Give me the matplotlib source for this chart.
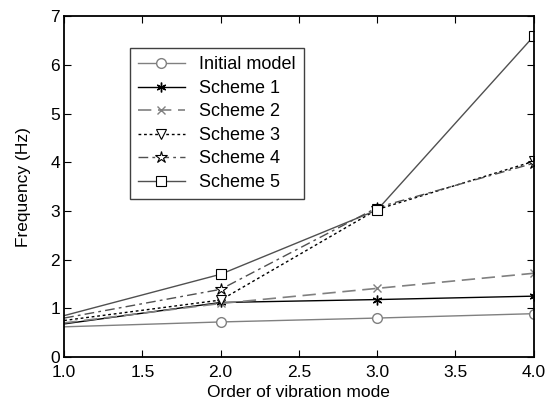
import matplotlib.pyplot as plt

plt.rcParams['font.family'] = ['Liberation Sans', 'DejaVu Sans']

# order of vibration mode
modes = [1.0, 2.0, 3.0, 4.0]

# frequencies (Hz) for each model
initial_model = [0.62, 0.72, 0.80, 0.89]
scheme_1 = [0.68, 1.12, 1.18, 1.25]
scheme_2 = [0.70, 1.10, 1.41, 1.72]
scheme_3 = [0.75, 1.17, 3.03, 4.02]
scheme_4 = [0.80, 1.39, 3.07, 3.98]
scheme_5 = [0.85, 1.70, 3.02, 6.59]

fig = plt.figure(figsize=(5.48, 4.05), dpi=100)
ax = fig.add_axes([0.117, 0.1185, 0.857, 0.8415])

gray = '#808080'
# no marker is drawn on the first mode in the original
mk = [1, 2, 3]
ax.plot(modes, initial_model, color=gray, lw=1, marker='o', ms=7, markevery=mk,
        mfc='white', mec=gray, label='Initial model')
ax.plot(modes, scheme_1, color='black', lw=1, marker=(6, 2, 0), ms=7, markevery=mk,
        mec='black', label='Scheme 1')
ax.plot(modes, scheme_2, color=gray, lw=1.2, ls=(0, (8, 4)), marker='x', ms=6, markevery=mk,
        mec=gray, label='Scheme 2')
ax.plot(modes, scheme_3, color='black', lw=1, ls=(0, (2, 2)), marker='v', ms=7, markevery=mk,
        mfc='white', mec='black', mew=0.8, label='Scheme 3')
ax.plot(modes, scheme_4, color='#505050', lw=1, ls=(0, (7, 3, 2, 3)), marker='*', ms=9, markevery=mk,
        mfc='white', mec='black', mew=0.8, label='Scheme 4')
ax.plot(modes, scheme_5, color='#505050', lw=1, marker='s', ms=6.5, markevery=mk,
        mfc='white', mec='black', mew=0.8, label='Scheme 5')

ax.set_xlim(1.0, 4.0)
ax.set_ylim(0, 7)
ax.set_xticks([1.0, 1.5, 2.0, 2.5, 3.0, 3.5, 4.0])
ax.set_xticklabels(['1.0', '1.5', '2.0', '2.5', '3.0', '3.5', '4.0'])
ax.set_yticks(range(0, 8))
ax.tick_params(direction='in', top=True, right=True, labelsize=12.5, length=5)
ax.tick_params(axis='x', pad=6)
ax.tick_params(axis='y', pad=3)
for sp in ax.spines.values():
    sp.set_linewidth(1.3)

ax.set_xlabel('Order of vibration mode', fontsize=12.5, labelpad=3)
ax.set_ylabel('Frequency (Hz)', fontsize=12.5, labelpad=14)

leg = ax.legend(loc='upper left', bbox_to_anchor=(0.14, 0.906), fontsize=13,
                fancybox=False, edgecolor='#404040', framealpha=1,
                handlelength=2.6, handletextpad=0.8, borderpad=0.45,
                labelspacing=0.36, borderaxespad=0)
leg.get_frame().set_linewidth(1.0)

fig.savefig('out.png', dpi=100)
